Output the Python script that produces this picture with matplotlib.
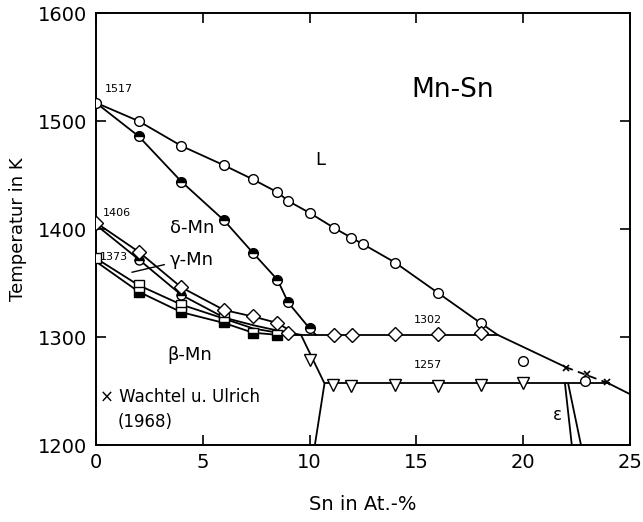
import matplotlib
matplotlib.use("Agg")
import matplotlib.pyplot as plt

# liquidus (open circles)
liq_x = [0, 2, 4, 6, 7.35, 8.5, 9, 10, 11.15, 11.95, 12.5, 14, 16, 18]
liq_T = [1517, 1500, 1477, 1459, 1446, 1434, 1426, 1415, 1401, 1392, 1386, 1369, 1341, 1313]
liq_tail_x = [18.8, 22.0]
liq_tail_T = [1302, 1272]
liq_dash_x = [22.0, 24.0]
liq_dash_T = [1272, 1257]
liq_end_x = [24.0, 25.0]
liq_end_T = [1257, 1247]
extra_circ_x = [20, 22.9]
extra_circ_T = [1278, 1259]

# Wachtel u. Ulrich (1968)
wu_x = [22.0, 23.0, 23.9]
wu_T = [1271, 1266, 1258]

# solidus (half filled circles)
sol_x = [0, 2, 4, 6, 7.35, 8.5, 9, 10]
sol_T = [1517, 1486, 1444, 1408, 1378, 1353, 1332, 1308]
sol_end_x = [10.3]
sol_end_T = [1302]
half_x = [2, 4, 6]
half_T = [1371, 1339, 1316]

# diamonds: delta/gamma and 1302 line
dia_x = [0, 2, 4, 6, 7.35, 8.5, 9, 11.15, 12, 14, 16, 18]
dia_T = [1406, 1379, 1346, 1325, 1319, 1313, 1304, 1302, 1302, 1303, 1303, 1304]
dg_up_x = [0, 2, 4, 6, 7.35, 8.5, 9.4]
dg_up_T = [1406, 1379, 1346, 1325, 1319, 1313, 1302]
dg_lo_x = [0, 2, 4, 6, 7.35, 8.5, 9.6]
dg_lo_T = [1404, 1372, 1339, 1318, 1311, 1306, 1302]
l1302_x = [8.5, 18.8]
l1302_T = [1302, 1302]

# squares: gamma/beta
sq_open_x = [0, 2, 4, 6]
sq_open_T = [1373, 1348, 1330, 1318]
sq_half_x = [2, 4, 6, 7.35, 8.5]
sq_half_T = [1342, 1323, 1314, 1304, 1302]
gb_up_x = [0, 2, 4, 6, 7.35, 8.5]
gb_up_T = [1373, 1348, 1330, 1317, 1308, 1304]
gb_lo_x = [0, 2, 4, 6, 7.35, 8.5]
gb_lo_T = [1370, 1342, 1323, 1313, 1304, 1302]

# triangles: 1257 line
tri_x = [10.0, 11.1, 11.95, 14, 16, 18, 20]
tri_T = [1279, 1256, 1255, 1256, 1255, 1256, 1257]
beta_x = [9.6, 10.7, 10.25]
beta_T = [1302, 1257, 1200]
l1257_x = [10.7, 24.0]
l1257_T = [1257, 1257]

# epsilon
eps1_x = [21.95, 22.27]
eps1_T = [1257, 1200]
eps2_x = [22.1, 22.7]
eps2_T = [1257, 1200]

plt.rcParams['font.family'] = ['DejaVu Sans']
fig = plt.figure(figsize=(6.43, 5.22), dpi=100)
ax = fig.add_axes([0.149, 0.1475, 0.831, 0.8275])

lw = 1.3
k = 'black'
lines = [(liq_x + liq_tail_x, liq_T + liq_tail_T), (liq_end_x, liq_end_T),
         (sol_x + sol_end_x, sol_T + sol_end_T),
         (dg_up_x, dg_up_T), (dg_lo_x, dg_lo_T), (l1302_x, l1302_T),
         (gb_up_x, gb_up_T), (gb_lo_x, gb_lo_T), (beta_x, beta_T), (l1257_x, l1257_T),
         (eps1_x, eps1_T), (eps2_x, eps2_T)]
for xs, ts in lines:
    ax.plot(xs, ts, color=k, lw=lw, zorder=1)
ax.plot(liq_dash_x, liq_dash_T, color=k, lw=lw, ls=(0, (4, 3)), zorder=1)

ax.plot(liq_x, liq_T, 'o', ms=7, mfc='white', mec=k, mew=1, zorder=3)
ax.plot(extra_circ_x, extra_circ_T, 'o', ms=7, mfc='white', mec=k, mew=1, zorder=3)
ax.plot(sol_x[1:], sol_T[1:], 'o', ms=7, fillstyle='top', mfc=k, mfcalt='white', mec=k, mew=1, zorder=3)
ax.plot(half_x, half_T, 'o', ms=6.5, fillstyle='top', mfc=k, mfcalt='white', mec=k, mew=1, zorder=3)
ax.plot(dia_x, dia_T, 'D', ms=7, mfc='white', mec=k, mew=1, zorder=4)
ax.plot(sq_open_x, sq_open_T, 's', ms=6.5, mfc='white', mec=k, mew=1, zorder=3)
ax.plot(sq_half_x, sq_half_T, 's', ms=6.5, fillstyle='bottom', mfc=k, mfcalt='white', mec=k, mew=1, zorder=3)
ax.plot(tri_x, tri_T, 'v', ms=8, mfc='white', mec=k, mew=1, zorder=3)
ax.plot(wu_x, wu_T, 'x', ms=5, color=k, mew=1.2, zorder=3)

ax.set_xlim(0, 25)
ax.set_ylim(1200, 1600)
ax.set_xticks([0, 5, 10, 15, 20, 25])
ax.set_yticks([1200, 1300, 1400, 1500, 1600])
ax.tick_params(direction='in', length=7, width=1.2, top=True, right=True, labelsize=14, pad=6)
for s in ax.spines.values():
    s.set_linewidth(1.4)

ax.set_xlabel('Sn in At.-%', fontsize=14, labelpad=16)
ax.set_ylabel('Temperatur in K', fontsize=13, labelpad=8)

ax.text(16.7, 1529, 'Mn-Sn', fontsize=19, ha='center', va='center')
ax.text(10.5, 1464, 'L', fontsize=13, ha='center', va='center')
ax.text(3.45, 1401, 'δ-Mn', fontsize=13, ha='left', va='center')
ax.text(3.45, 1371, 'γ-Mn', fontsize=13, ha='left', va='center')
ax.plot([3.2, 1.7], [1367, 1360], color=k, lw=1)
ax.text(3.35, 1283, 'β-Mn', fontsize=13, ha='left', va='center')
ax.text(21.6, 1228, 'ε', fontsize=12, ha='center', va='center')
ax.text(0.4, 1530, '1517', fontsize=8, ha='left', va='center')
ax.text(0.35, 1415, '1406', fontsize=8, ha='left', va='center')
ax.text(0.2, 1374, '1373', fontsize=8, ha='left', va='center')
ax.text(14.9, 1316, '1302', fontsize=8, ha='left', va='center')
ax.text(14.9, 1274, '1257', fontsize=8, ha='left', va='center')
ax.text(0.2, 1244, '× Wachtel u. Ulrich', fontsize=12, ha='left', va='center')
ax.text(1.0, 1221, '(1968)', fontsize=12, ha='left', va='center')

fig.savefig('out.png', dpi=100)
